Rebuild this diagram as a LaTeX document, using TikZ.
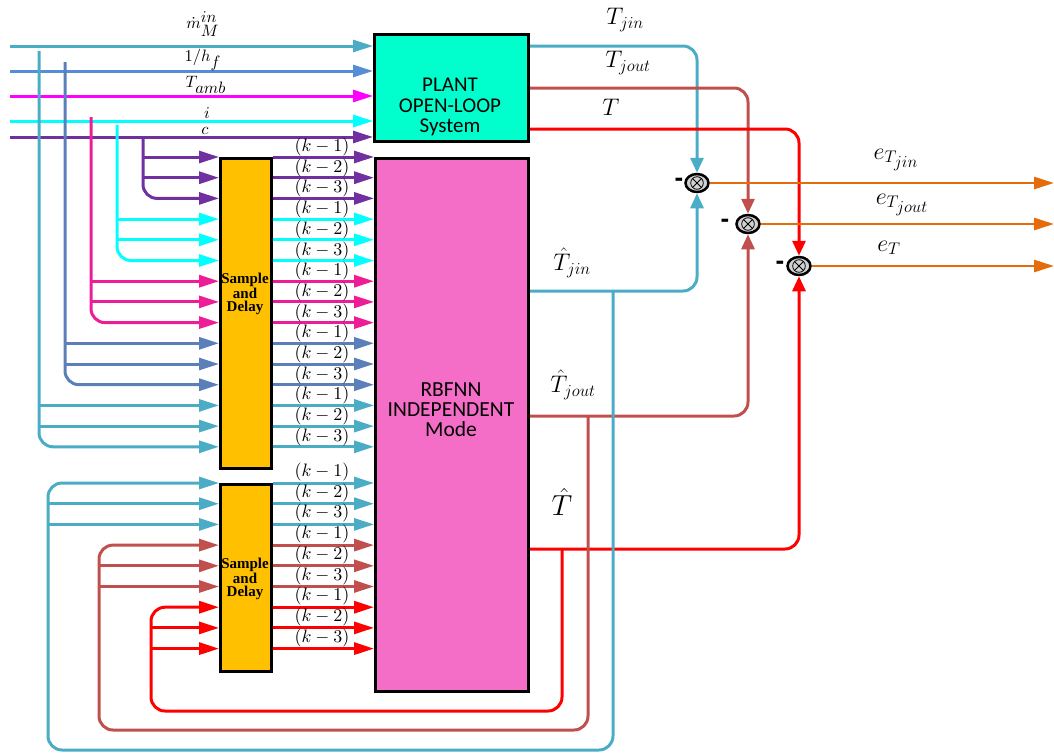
\RequirePackage{fix-cm}
\documentclass[tikz,border=0pt]{standalone}
\usepackage{fontspec}
\newfontfamily\carl{Carlito}
\newfontfamily\tnr{Liberation Serif}
\newfontfamily\arialf{Liberation Sans}
\usetikzlibrary{arrows.meta,shapes.geometric,calc}
\definecolor{cteal}{HTML}{4BACC6}
\definecolor{csteel}{HTML}{558ED5}
\definecolor{csteeld}{HTML}{5B7FB9}
\definecolor{cmag}{HTML}{FF00FF}
\definecolor{cpink}{HTML}{EE1C96}
\definecolor{ccyan}{HTML}{00FFFF}
\definecolor{cpurp}{HTML}{7030A0}
\definecolor{cbrown}{HTML}{C0504D}
\definecolor{cred}{HTML}{FF0000}
\definecolor{corange}{HTML}{E46C0A}
\definecolor{cplant}{HTML}{00FFCC}
\definecolor{crbf}{HTML}{F46EC8}
\definecolor{csd}{HTML}{FFC000}
\begin{document}
\begin{tikzpicture}[x=1pt,y=-1pt,
  wire/.style={line width=3pt},
  arr/.style={wire,-{Triangle[length=20pt,width=12pt]}},
  varr/.style={wire,-{Triangle[length=15pt,width=13pt]}},
  box/.style={draw=black,line width=3pt,inner sep=0pt,anchor=north west},
  klab/.style={font=\fontsize{10}{12}\selectfont,inner sep=0pt,scale=1.8,transform shape},
  inlab/.style={font=\fontsize{10}{12}\selectfont,inner sep=0pt,scale=1.65,transform shape},
  biglab/.style={font=\fontsize{24}{28}\selectfont,inner sep=0pt},
  boxtxt/.style={font=\carl\fontsize{21}{20.5}\selectfont,align=center,inner sep=0pt},
  rbtxt/.style={font=\carl\fontsize{21.5}{20}\selectfont,align=center,inner sep=0pt},
  sdtxt/.style={font=\tnr\bfseries\fontsize{15}{13.5}\selectfont,align=center,inner sep=0pt},
  sumj/.style={draw=black,line width=2.5pt,fill=black!18,ellipse,minimum width=23pt,minimum height=18pt,inner sep=0pt},
  minus/.style={font=\arialf\bfseries\fontsize{26}{26}\selectfont,inner sep=0pt},
  rc/.style={rounded corners=14pt}
]
\useasboundingbox (0,0) rectangle (1054,753);

% ---- boxes
\node[box,fill=cplant,minimum width=154pt,minimum height=107pt] (plant) at (373,33) {};
\node[box,fill=crbf,minimum width=153pt,minimum height=533pt] (rb) at (374,157) {};
\node[box,fill=csd,minimum width=51pt,minimum height=310pt] (sd1) at (219,157) {};
\node[box,fill=csd,minimum width=51pt,minimum height=187pt] (sd2) at (219,483) {};

\node[boxtxt] (plantt) at (450,107) {PLANT\\OPEN-LOOP\\System};
\node[rbtxt] (rbt) at (451,410) {RBFNN\\INDEPENDENT\\Mode};
\node[sdtxt] (sd1t) at (245,294) {Sample\\and\\Delay};
\node[sdtxt] (sd2t) at (245,579) {Sample\\and\\Delay};

% ---- row coordinates
\foreach \k in {0,...,14} \coordinate (r\k) at (0,{157+20.7*\k});
\foreach \k in {0,...,8} \coordinate (g\k) at (0,{483+20.7*\k});

% ---- top inputs
\coordinate (s1) at (10,46);
\coordinate (s2) at (10,71);
\coordinate (s3) at (10,96);
\coordinate (s4) at (10,121);
\coordinate (s5) at (10,137);
\draw[arr,cteal] (s1) -- (plant.west |- s1);
\draw[arr,csteel] (s2) -- (plant.west |- s2);
\draw[arr,cmag] (s3) -- (plant.west |- s3);
\draw[arr,ccyan] (s4) -- (plant.west |- s4);
\draw[arr,cpurp] (s5) -- (plant.west |- s5);
\node[inlab] (l1) at (203,24) {$\dot{m}^{\textstyle in}_{\textstyle M}$};
\node[inlab] (l2) at (203,60) {$1/h_{\textstyle f}$};
\node[inlab] (l3) at (206,85) {$T_{\textstyle amb}$};
\node[inlab] (l4) at (207,113) {$i$};
\node[inlab] (l5) at (205,131) {$c$};

% ---- taps into first sample and delay
\coordinate (t1) at (39,51);
\coordinate (t2) at (65,62);
\coordinate (t3) at (91,117);
\coordinate (t4) at (117,125);
\coordinate (t5) at (143,137);
\draw[arr,cpurp,rc] (t5) |- (sd1.west |- r2);
\draw[arr,cpurp] (r0 -| t5) -- (sd1.west |- r0);
\draw[arr,cpurp] (r1 -| t5) -- (sd1.west |- r1);
\draw[arr,ccyan,rc] (t4) |- (sd1.west |- r5);
\draw[arr,ccyan] (r3 -| t4) -- (sd1.west |- r3);
\draw[arr,ccyan] (r4 -| t4) -- (sd1.west |- r4);
\draw[arr,cpink,rc] (t3) |- (sd1.west |- r8);
\draw[arr,cpink] (r6 -| t3) -- (sd1.west |- r6);
\draw[arr,cpink] (r7 -| t3) -- (sd1.west |- r7);
\draw[arr,csteeld,rc] (t2) |- (sd1.west |- r11);
\draw[arr,csteeld] (r9 -| t2) -- (sd1.west |- r9);
\draw[arr,csteeld] (r10 -| t2) -- (sd1.west |- r10);
\draw[arr,cteal,rc] (t1) |- (sd1.west |- r14);
\draw[arr,cteal] (r12 -| t1) -- (sd1.west |- r12);
\draw[arr,cteal] (r13 -| t1) -- (sd1.west |- r13);

% ---- delayed outputs, group 1
\foreach \k/\c in {0/cpurp,1/cpurp,2/cpurp,3/ccyan,4/ccyan,5/ccyan,6/cpink,7/cpink,8/cpink,9/csteeld,10/csteeld,11/csteeld,12/cteal,13/cteal,14/cteal}{
  \draw[arr,\c] (sd1.east |- r\k) -- (rb.west |- r\k);
  \pgfmathtruncatemacro\m{mod(\k,3)+1}
  \node[klab] (ka\k) at (322,{157+20.7*\k-10}) {$(k-\m)$};
}
% ---- delayed outputs, group 2
\foreach \k/\c in {0/cteal,1/cteal,2/cteal,3/cbrown,4/cbrown,5/cbrown,6/cred,7/cred,8/cred}{
  \draw[arr,\c] (sd2.east |- g\k) -- (rb.west |- g\k);
  \pgfmathtruncatemacro\m{mod(\k,3)+1}
  \node[klab] (kb\k) at (322,{483+20.7*\k-11}) {$(k-\m)$};
}

% ---- summing junctions
\foreach \n/\x/\y in {j1/697/183,j2/748/224,j3/799/266}{
  \node[sumj] (\n) at (\x,\y) {};
  \draw[line width=0.8pt] (\n.center) circle (6.3pt);
  \draw[line width=0.8pt] ($(\n.center)+(-4.4,-4.4)$) -- ($(\n.center)+(4.4,4.4)$);
  \draw[line width=0.8pt] ($(\n.center)+(-4.4,4.4)$) -- ($(\n.center)+(4.4,-4.4)$);
}
\node[minus] (m1) at (679,182) {-};
\node[minus] (m2) at (725,223) {-};
\node[minus] (m3) at (780,265) {-};

% ---- plant outputs
\coordinate (yt1) at (0,46);
\coordinate (yt2) at (0,88);
\coordinate (yt3) at (0,129);
\draw[varr,cteal,rc] (plant.east |- yt1) -| (j1.north);
\draw[varr,cbrown,rc] (plant.east |- yt2) -| (j2.north);
\draw[varr,cred,rc] (plant.east |- yt3) -| (j3.north);
\node[biglab] (lt1) at (625,20) {$T_{jin}$};
\node[biglab] (lt2) at (628,63) {$T_{jout}$};
\node[biglab] (lt3) at (611,107) {$T$};

% ---- error outputs
\coordinate (eend) at (1054,0);
\draw[arr,corange,line width=2.6pt] (j1.east) -- (j1 -| eend);
\draw[arr,corange,line width=2.6pt] (j2.east) -- (j2 -| eend);
\draw[arr,corange,line width=2.6pt] (j3.east) -- (j3 -| eend);
\node[biglab] (le1) at (896,160) {$e_{\scriptstyle T_{\scriptstyle jin}}$};
\node[biglab] (le2) at (902,205) {$e_{\scriptstyle T_{\scriptstyle jout}}$};
\node[biglab] (le3) at (889,248) {$e_{\scriptstyle T}$};

% ---- network outputs and feedback
\coordinate (yo1) at (0,291);
\coordinate (yo2) at (0,416);
\coordinate (yo3) at (0,549);
\draw[varr,cteal,rc] (rb.east |- yo1) -| (j1.south);
\draw[varr,cbrown,rc] (rb.east |- yo2) -| (j2.south);
\draw[varr,cred,rc] (rb.east |- yo3) -| (j3.south);
\node[biglab] (lh1) at (572,263) {$\hat{T}_{jin}$};
\node[biglab] (lh2) at (573,385) {$\hat{T}_{jout}$};
\node[font=\fontsize{29}{32}\selectfont,inner sep=0pt] (lh3) at (562,502) {$\hat{T}$};

\coordinate (b1) at (613,291);
\coordinate (c1) at (48,750);
\draw[arr,cteal,rc] (b1) |- (c1) |- (sd2.west |- g0);
\draw[arr,cteal] (g1 -| c1) -- (sd2.west |- g1);
\draw[arr,cteal] (g2 -| c1) -- (sd2.west |- g2);

\coordinate (b2) at (588,416);
\coordinate (c2) at (99,730);
\draw[arr,cbrown,rc] (b2) |- (c2) |- (sd2.west |- g3);
\draw[arr,cbrown] (g4 -| c2) -- (sd2.west |- g4);
\draw[arr,cbrown] (g5 -| c2) -- (sd2.west |- g5);

\coordinate (b3) at (562,549);
\coordinate (c3) at (151,711);
\draw[arr,cred,rc] (b3) |- (c3) |- (sd2.west |- g6);
\draw[arr,cred] (g7 -| c3) -- (sd2.west |- g7);
\draw[arr,cred] (g8 -| c3) -- (sd2.west |- g8);
\end{tikzpicture}
\end{document}
